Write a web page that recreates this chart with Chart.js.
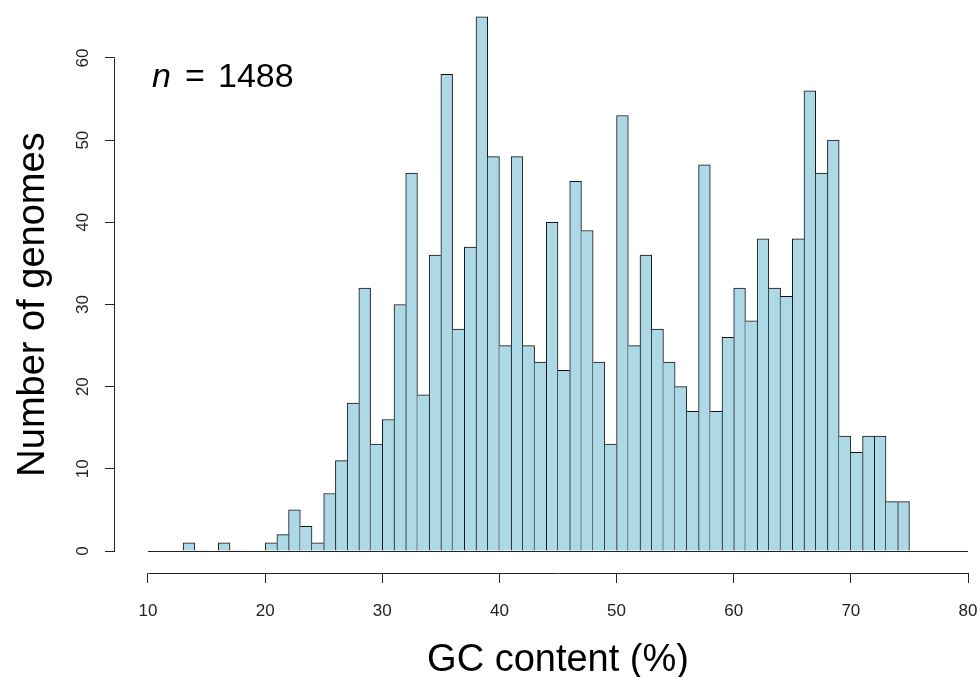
<!DOCTYPE html>
<html>
<head>
<meta charset="utf-8">
<script src="https://cdn.jsdelivr.net/npm/chart.js@4"></script>
<style>
html,body{margin:0;padding:0;background:#fff}
canvas{display:block}
</style>
</head>
<body>
<canvas id="chart" width="980" height="677"></canvas>
<script>
// GC content histogram, 1% bins

const binLeft = [13,14,15,16,17,18,19,20,21,22,23,24,25,26,27,28,29,30,31,32,33,34,35,36,37,38,39,40,41,42,43,44,45,46,47,48,49,50,51,52,53,54,55,56,57,58,59,60,61,62,63,64,65,66,67,68,69,70,71,72,73,74]

const counts = [1,0,0,1,0,0,0,1,2,5,3,1,7,11,18,32,13,16,30,46,19,36,58,27,37,65,48,25,48,25,23,40,22,45,39,23,13,53,25,36,27,23,20,17,47,17,26,32,28,38,32,31,38,56,46,50,14,12,14,14,6,6]

const xTicks = [10,20,30,40,50,60,70,80]
const yTicks = [0,10,20,30,40,50,60]

const FONT = "'Liberation Sans', Arial, sans-serif"
const INK = "#222"

const rAxes = {
  id: "rAxes",
  afterDatasetsDraw(chart) {
    const ctx = chart.ctx
    const xs = chart.scales.x
    const ys = chart.scales.y
    const area = chart.chartArea

    ctx.save()
    ctx.strokeStyle = INK
    ctx.lineWidth = 1

    // baseline
    const y0 = Math.round(ys.getPixelForValue(0)) + 0.5
    ctx.beginPath()
    ctx.moveTo(xs.getPixelForValue(xTicks[0]), y0)
    ctx.lineTo(xs.getPixelForValue(xTicks[xTicks.length-1]), y0)
    ctx.stroke()

    // x axis line
    const xb = area.bottom + 0.5
    ctx.beginPath()
    ctx.moveTo(Math.round(xs.getPixelForValue(xTicks[0])) + 0.5, xb)
    ctx.lineTo(Math.round(xs.getPixelForValue(xTicks[xTicks.length-1])) + 0.5, xb)
    ctx.stroke()

    // y axis line
    const yl = area.left - 0.5
    ctx.beginPath()
    ctx.moveTo(yl, Math.round(ys.getPixelForValue(yTicks[0])) + 0.5)
    ctx.lineTo(yl, Math.round(ys.getPixelForValue(yTicks[yTicks.length-1])) + 0.5)
    ctx.stroke()

    // y tick labels, rotated like R's default
    ctx.fillStyle = INK
    ctx.font = "17px " + FONT
    ctx.textAlign = "center"
    ctx.textBaseline = "middle"
    for (const v of yTicks) {
      ctx.save()
      ctx.translate(83, ys.getPixelForValue(v))
      ctx.rotate(-Math.PI/2)
      ctx.fillText(String(v), 0, 0)
      ctx.restore()
    }

    // axis titles
    ctx.fillStyle = "#000"
    ctx.font = "38px " + FONT
    ctx.textAlign = "center"
    ctx.textBaseline = "alphabetic"
    const xc = (xs.getPixelForValue(xTicks[0]) + xs.getPixelForValue(xTicks[xTicks.length-1])) / 2
    ctx.fillText("GC content (%)", xc, 671)

    ctx.save()
    const yc = (ys.getPixelForValue(yTicks[0]) + ys.getPixelForValue(yTicks[yTicks.length-1])) / 2
    ctx.translate(44, yc)
    ctx.rotate(-Math.PI/2)
    ctx.fillText("Number of genomes", 0, 0)
    ctx.restore()

    // sample size, spaced like plotmath
    ctx.textAlign = "left"
    ctx.font = "italic 34px " + FONT
    ctx.fillText("n", 152, 87)
    ctx.font = "34px " + FONT
    ctx.fillText("=", 185, 87)
    ctx.fillText("1488", 218, 87)

    ctx.restore()
  }
}

function initChart() {

const ctx = document.getElementById("chart").getContext("2d")

new Chart(ctx, {
  type: "bar",
  data: {
    datasets: [{
      data: binLeft.map((b,i) => ({x: b + 0.5, y: counts[i]})),
      backgroundColor: "#ADD8E6",
      borderColor: "#111",
      borderSkipped: "bottom",
      borderWidth: c => {
        const i = c.dataIndex
        const v = counts[i]
        const prev = i > 0 ? counts[i-1] : -1
        const next = i < counts.length-1 ? counts[i+1] : -1
        return {top: 1, left: prev <= v ? 1 : 0, right: next < v ? 1 : 0, bottom: 0}
      },
      barPercentage: 1,
      categoryPercentage: 1
    }]
  },
  options: {
    responsive: false,
    animation: false,
    devicePixelRatio: 1,
    layout: {padding: {left: 0, right: 12, top: 9, bottom: 0}},
    plugins: {
      legend: {display: false},
      tooltip: {enabled: false}
    },
    scales: {
      x: {
        type: "linear",
        min: 7.183,
        max: 80,
        offset: false,
        afterBuildTicks: s => { s.ticks = xTicks.map(v => ({value: v})) },
        afterFit: s => { s.height = 104; s.paddingLeft = 0; s.paddingRight = 0 },
        grid: {offset: false, drawOnChartArea: false, drawTicks: true, tickLength: 10, color: INK},
        border: {display: false},
        ticks: {
          autoSkip: false, maxRotation: 0, minRotation: 0,
          padding: 18, color: INK,
          font: {family: FONT, size: 17}
        }
      },
      y: {
        min: -2.677,
        max: 65.96,
        afterBuildTicks: s => { s.ticks = yTicks.map(v => ({value: v})) },
        afterFit: s => { s.width = 115; s.paddingTop = 0; s.paddingBottom = 0 },
        grid: {drawOnChartArea: false, drawTicks: true, tickLength: 10, color: INK},
        border: {display: false},
        ticks: {display: false}
      }
    }
  },
  plugins: [rAxes]
})

}

initChart()
</script>
</body>
</html>
